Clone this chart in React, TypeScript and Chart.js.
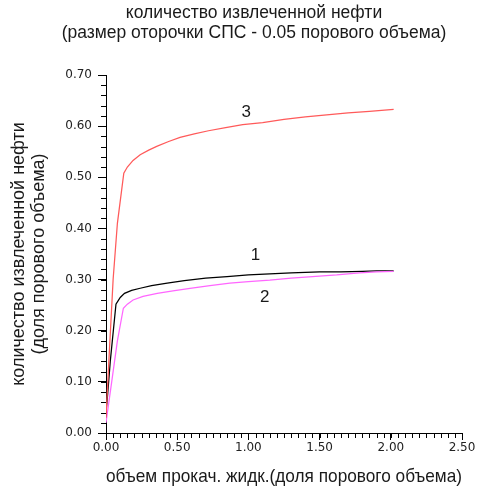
import { useEffect, useRef } from 'react';
import { Chart, registerables } from 'chart.js';

Chart.register(...registerables);

// Heading and axis titles
const titleLines = ['количество извлеченной нефти', '(размер оторочки СПС - 0.05 порового объема)'];
const yTitleLines = ['количество извлеченной нефти', '(доля порового объема)'];
const xTitle = 'объем прокач. жидк.(доля порового объема)';

// Curve 1 (black)
const x1 = [0.0, 0.01, 0.03, 0.07, 0.10, 0.13, 0.18, 0.24, 0.32, 0.43, 0.55, 0.70, 0.85, 1.00, 1.15, 1.30, 1.50, 1.65, 1.80, 1.90, 2.02];
const y1 = [0.04, 0.07, 0.14, 0.252, 0.265, 0.273, 0.279, 0.283, 0.288, 0.293, 0.298, 0.303, 0.306, 0.309, 0.311, 0.313, 0.315, 0.315, 0.316, 0.317, 0.317];

// Curve 2 (magenta)
const x2 = [0.0, 0.04, 0.08, 0.122, 0.15, 0.19, 0.26, 0.36, 0.47, 0.59, 0.73, 0.87, 1.00, 1.15, 1.30, 1.45, 1.62, 1.78, 1.90, 2.02];
const y2 = [0.02, 0.10, 0.18, 0.244, 0.252, 0.26, 0.267, 0.273, 0.278, 0.283, 0.288, 0.293, 0.296, 0.299, 0.303, 0.306, 0.309, 0.313, 0.315, 0.316];

// Curve 3 (red)
const x3 = [0.0, 0.02, 0.05, 0.08, 0.125, 0.15, 0.19, 0.24, 0.30, 0.36, 0.44, 0.52, 0.62, 0.72, 0.84, 0.96, 1.10, 1.25, 1.40, 1.55, 1.70, 1.85, 2.02];
const y3 = [0.03, 0.14, 0.30, 0.41, 0.508, 0.52, 0.533, 0.544, 0.553, 0.561, 0.57, 0.578, 0.585, 0.591, 0.597, 0.603, 0.607, 0.613, 0.618, 0.622, 0.626, 0.629, 0.633];

// Curve number labels placed in data coordinates
const curveNames = ['1', '2', '3'];
const curveLabelX = [1.05, 1.115, 0.985];
const curveLabelY = [0.347, 0.266, 0.628];

// Axis ranges and tick steps
const xMax = 2.5;
const yMax = 0.7;
const xMajor = 0.5;
const yMajor = 0.1;
const xMinor = 0.05;
const yMinor = 0.02;

const textFont = '"Liberation Sans", Arial, sans-serif';
const tickFont = '"DejaVu Sans", Verdana, sans-serif';
const textColor = '#1a1a1a';

const zip = (xs: number[], ys: number[]) => xs.map((x, i) => ({ x, y: ys[i] }));

const decorations = {
  id: 'decorations',
  afterDraw(chart: any) {
    const { ctx, scales, chartArea } = chart;
    const xs = scales.x;
    const ys = scales.y;
    ctx.save();
    // minor tick marks
    ctx.strokeStyle = '#000';
    ctx.lineWidth = 1;
    ctx.beginPath();
    for (let i = 0; i <= Math.round(yMax / yMinor); i++) {
      const py = Math.round(ys.getPixelForValue(i * yMinor)) + 0.5;
      ctx.moveTo(chartArea.left - 5, py);
      ctx.lineTo(chartArea.left, py);
    }
    for (let i = 0; i <= Math.round(xMax / xMinor); i++) {
      const px = Math.round(xs.getPixelForValue(i * xMinor)) + 0.5;
      ctx.moveTo(px, chartArea.bottom);
      ctx.lineTo(px, chartArea.bottom + 5);
    }
    ctx.stroke();

    // heading
    ctx.fillStyle = textColor;
    ctx.textAlign = 'center';
    ctx.textBaseline = 'middle';
    ctx.font = `17.5px ${textFont}`;
    titleLines.forEach((t, i) => ctx.fillText(t, 254, 13 + i * 20));

    // curve numbers
    ctx.font = `17px ${textFont}`;
    curveNames.forEach((n, i) => {
      ctx.fillText(n, xs.getPixelForValue(curveLabelX[i]), ys.getPixelForValue(curveLabelY[i]));
    });
    ctx.restore();
  },
};

export default function App() {
  const ref = useRef<HTMLCanvasElement>(null);

  useEffect(() => {
    if (!ref.current) return;
    const line = (data: { x: number; y: number }[], color: string) => ({
      data,
      borderColor: color,
      backgroundColor: color,
      borderWidth: 1.25,
      pointRadius: 0,
      tension: 0,
      fill: false,
    });
    const chart = new Chart(ref.current, {
      type: 'line',
      data: {
        datasets: [
          line(zip(x3, y3), '#ff5a5a'),
          line(zip(x2, y2), '#ff66ff'),
          line(zip(x1, y1), '#000000'),
        ],
      },
      options: {
        responsive: false,
        animation: false,
        devicePixelRatio: 1,
        layout: { padding: { top: 75, right: 18, left: 0, bottom: 0 } },
        plugins: { legend: { display: false }, tooltip: { enabled: false }, title: { display: false } },
        scales: {
          x: {
            type: 'linear',
            min: 0,
            max: xMax,
            ticks: {
              stepSize: xMajor,
              callback: (v: any) => Number(v).toFixed(2),
              font: { family: tickFont, size: 12 },
              color: '#222',
              padding: 1,
              maxRotation: 0,
            },
            grid: { drawOnChartArea: false, tickLength: 7, color: '#000' },
            border: { color: '#000', width: 1 },
            title: {
              display: true,
              text: xTitle,
              font: { family: textFont, size: 19, lineHeight: 1.2 },
              color: textColor,
              padding: { top: 0, bottom: 5 },
            },
            afterFit: (s: any) => {
              s.height = 60;
            },
          },
          y: {
            type: 'linear',
            min: 0,
            max: yMax,
            ticks: {
              stepSize: yMajor,
              callback: (v: any) => Number(v).toFixed(2),
              font: { family: tickFont, size: 12 },
              color: '#222',
              padding: 6,
            },
            grid: { drawOnChartArea: false, tickLength: 8, color: '#000' },
            border: { color: '#000', width: 1 },
            title: {
              display: true,
              text: yTitleLines,
              font: { family: textFont, size: 18, lineHeight: 1.1 },
              color: textColor,
              padding: { top: 9, bottom: 0 },
            },
            afterFit: (s: any) => {
              s.width = 106;
            },
          },
        },
      },
      plugins: [decorations],
    });
    return () => chart.destroy();
  }, []);

  return (
    <div style={{ position: 'absolute', left: 0, top: 0, width: 480, height: 493, background: '#fff' }}>
      <canvas ref={ref} width={480} height={493} />
    </div>
  );
}
